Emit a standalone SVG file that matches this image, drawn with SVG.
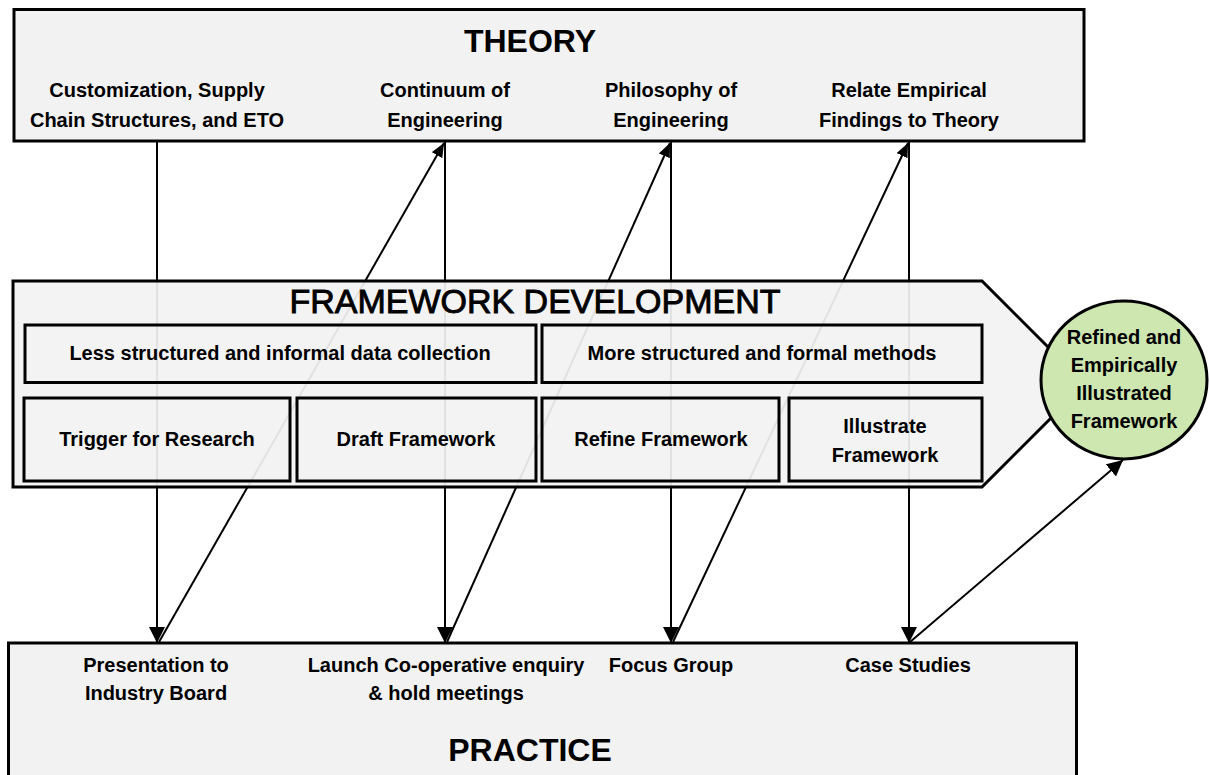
<svg xmlns="http://www.w3.org/2000/svg" width="1209" height="775" viewBox="0 0 1209 775">
<style>
.box{fill:#f2f2f2;stroke:#000;stroke-width:3}
.inner{fill:none;stroke:#000;stroke-width:3}
.lbl{font-family:"Liberation Sans",Arial,sans-serif;font-weight:bold;font-size:20px;fill:#000;text-anchor:middle}
.title{font-family:"Liberation Sans",Arial,sans-serif;font-weight:bold;font-size:32px;fill:#000;text-anchor:middle}
.fw{font-family:"Liberation Sans",Arial,sans-serif;font-size:34px;fill:#000;stroke:#000;stroke-width:0.9;text-anchor:middle}
.conn{stroke:#000;stroke-width:2;fill:none}
</style>
<defs>
<marker id="ah" viewBox="0 0 10 10" refX="10" refY="5" markerWidth="16" markerHeight="16" markerUnits="userSpaceOnUse" orient="auto"><path d="M0,0 L10,5 L0,10 Z" fill="#000"/></marker>
<marker id="ahs" viewBox="0 0 10 10" refX="10" refY="5" markerWidth="14" markerHeight="12" markerUnits="userSpaceOnUse" orient="auto" preserveAspectRatio="none"><path d="M0,0 L10,5 L0,10 Z" fill="#000"/></marker>
</defs>
<g id="connectors">
<line class="conn" x1="157" y1="141" x2="157" y2="643" marker-end="url(#ah)"/>
<line class="conn" x1="445" y1="141" x2="445" y2="643" marker-end="url(#ah)"/>
<line class="conn" x1="671" y1="141" x2="671" y2="643" marker-end="url(#ah)"/>
<line class="conn" x1="909" y1="141" x2="909" y2="643" marker-end="url(#ah)"/>
<line class="conn" x1="159" y1="642" x2="444" y2="143" marker-end="url(#ahs)"/>
<line class="conn" x1="447" y1="642" x2="670" y2="143" marker-end="url(#ahs)"/>
<line class="conn" x1="673" y1="642" x2="908" y2="143" marker-end="url(#ahs)"/>
<line class="conn" x1="910" y1="642" x2="1123" y2="460" marker-end="url(#ah)"/>
</g>
<g id="theory">
<rect class="box" x="14" y="9.5" width="1070" height="131.5"/>
<text class="title" x="530" y="52">THEORY</text>
<text class="lbl" x="157" y="97">Customization, Supply</text>
<text class="lbl" x="157" y="126.5">Chain Structures, and ETO</text>
<text class="lbl" x="445" y="97">Continuum of</text>
<text class="lbl" x="445" y="126.5">Engineering</text>
<text class="lbl" x="671" y="97">Philosophy of</text>
<text class="lbl" x="671" y="126.5">Engineering</text>
<text class="lbl" x="909" y="97">Relate Empirical</text>
<text class="lbl" x="909" y="126.5">Findings to Theory</text>
</g>
<g id="framework">
<path d="M13,281 L982,281 L1085,384 L982,487 L13,487 Z" fill="#f2f2f2" fill-opacity="0.93" stroke="#000" stroke-width="3"/>
<text class="fw" x="535" y="313">FRAMEWORK DEVELOPMENT</text>
</g>
<g id="less-structured">
<rect class="inner" x="25" y="325" width="511" height="57.5"/>
<text class="lbl" x="280" y="360">Less structured and informal data collection</text>
</g>
<g id="more-structured">
<rect class="inner" x="542" y="325" width="440" height="57.5"/>
<text class="lbl" x="762" y="360">More structured and formal methods</text>
</g>
<g id="trigger">
<rect class="inner" x="24" y="398" width="266" height="83"/>
<text class="lbl" x="157" y="446">Trigger for Research</text>
</g>
<g id="draft">
<rect class="inner" x="297" y="398" width="239" height="83"/>
<text class="lbl" x="416" y="446">Draft Framework</text>
</g>
<g id="refine">
<rect class="inner" x="542" y="398" width="237" height="83"/>
<text class="lbl" x="661" y="446">Refine Framework</text>
</g>
<g id="illustrate">
<rect class="inner" x="789" y="398" width="193" height="83"/>
<text class="lbl" x="885" y="432.5">Illustrate</text>
<text class="lbl" x="885" y="461.5">Framework</text>
</g>
<g id="result">
<ellipse cx="1124" cy="380" rx="83" ry="79" fill="#cee6b0" stroke="#000" stroke-width="3"/>
<text class="lbl" x="1124" y="344">Refined and</text>
<text class="lbl" x="1124" y="372">Empirically</text>
<text class="lbl" x="1124" y="400">Illustrated</text>
<text class="lbl" x="1124" y="428">Framework</text>
</g>
<g id="practice">
<rect class="box" x="8.5" y="643" width="1068" height="140"/>
<text class="lbl" x="156" y="671.5">Presentation to</text>
<text class="lbl" x="156" y="700">Industry Board</text>
<text class="lbl" x="446" y="671.5">Launch Co-operative enquiry</text>
<text class="lbl" x="446" y="700">&amp; hold meetings</text>
<text class="lbl" x="671" y="671.5">Focus Group</text>
<text class="lbl" x="908" y="671.5">Case Studies</text>
<text class="title" x="530" y="761">PRACTICE</text>
</g>
</svg>
